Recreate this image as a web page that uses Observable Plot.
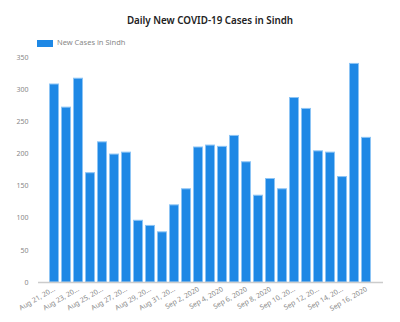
<!DOCTYPE html>
<html><head><meta charset="utf-8">
<script src="https://cdn.jsdelivr.net/npm/d3@7"></script>
<script src="https://cdn.jsdelivr.net/npm/@observablehq/plot@0.6"></script>
<style>
body{margin:0;background:#fff;font-family:"Noto Sans",Lato,sans-serif;}
#wrap{width:400px;height:322px;position:relative;}
#title{height:30px;line-height:18px;padding-top:12px;box-sizing:border-box;text-align:center;padding-left:20px;font-size:9.8px;font-weight:600;color:#222;}
#legend{height:20px;position:relative;}
#legend .sw{position:absolute;left:37px;top:10px;width:16px;height:7px;background:#1e88e5;}
#legend .lb{position:absolute;left:57px;top:7px;font-size:7.5px;color:#888;}
</style></head>
<body><div id="wrap">
<div id="title">Daily New COVID-19 Cases in Sindh</div>
<div id="legend"><div class="sw"></div><div class="lb">New Cases in Sindh</div></div>
<div id="chart"></div>
</div>
<script>
const dates = ["Aug 21, 2020","Aug 22, 2020","Aug 23, 2020","Aug 24, 2020","Aug 25, 2020","Aug 26, 2020","Aug 27, 2020","Aug 28, 2020","Aug 29, 2020","Aug 30, 2020","Aug 31, 2020","Sep 1, 2020","Sep 2, 2020","Sep 3, 2020","Sep 4, 2020","Sep 5, 2020","Sep 6, 2020","Sep 7, 2020","Sep 8, 2020","Sep 9, 2020","Sep 10, 2020","Sep 11, 2020","Sep 12, 2020","Sep 13, 2020","Sep 14, 2020","Sep 15, 2020","Sep 16, 2020"];
const cases = [308,272,317,170,218,199,202,96,88,78,120,145,210,213,211,228,187,135,161,145,287,270,204,202,164,340,225];
const tickDates = ["Aug 21, 2020","Aug 23, 2020","Aug 25, 2020","Aug 27, 2020","Aug 29, 2020","Aug 31, 2020","Sep 2, 2020","Sep 4, 2020","Sep 6, 2020","Sep 8, 2020","Sep 10, 2020","Sep 12, 2020","Sep 14, 2020","Sep 16, 2020"];
const tickLabels = ["Aug 21, 20...","Aug 23, 20...","Aug 25, 20...","Aug 27, 20...","Aug 29, 20...","Aug 31, 20...","Sep 2, 2020","Sep 4, 2020","Sep 6, 2020","Sep 8, 2020","Sep 10, 20...","Sep 12, 20...","Sep 14, 20...","Sep 16, 2020"];
const yTicks = [0,50,100,150,200,250,300,350];

const data = dates.map((d,i)=>({date:d, value:cases[i]}));
const labelOf = new Map(tickDates.map((d,i)=>[d,tickLabels[i]]));

const chart = Plot.plot({
  width:400, height:272,
  marginTop:7, marginBottom:40, marginLeft:38, marginRight:17,
  style:{fontFamily:'"Noto Sans",Lato,sans-serif', fontSize:"7px", color:"#888", background:"#fff"},
  x:{domain:dates, padding:0.16, label:null},
  y:{domain:[0,350], label:null},
  marks:[
    Plot.barY(data,{x:"date", y:"value", fill:"#1e88e5", stroke:"#8cc4f5", strokeWidth:1, insetLeft:0.5, insetRight:0.5}),
    Plot.ruleY([0],{stroke:"#ccc", strokeWidth:1.5}),
    Plot.axisY({ticks:yTicks, tickSize:0, tickPadding:10, fill:"#888", fontSize:7}),
    Plot.axisX({ticks:tickDates, tickFormat:d=>labelOf.get(d), tickSize:0, tickPadding:6, tickRotate:-30, fill:"#888", fontSize:7})
  ]
});
document.getElementById("chart").appendChild(chart);
</script>
</body></html>
